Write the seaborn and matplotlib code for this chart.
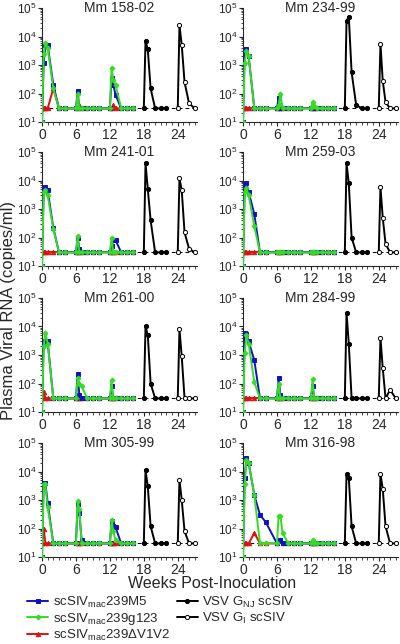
import numpy as np
import matplotlib
matplotlib.use("Agg")
import matplotlib.pyplot as plt
from matplotlib.ticker import LogLocator, NullFormatter
import seaborn as sns

# animals, one panel each (row by row)
animals = ["Mm 158-02", "Mm 234-99", "Mm 241-01", "Mm 259-03",
           "Mm 261-00", "Mm 284-99", "Mm 305-99", "Mm 316-98"]

# sampling weeks
weeks_sc = [0, 0.3, 0.6, 1, 2, 3, 4, 6, 6.3, 6.6, 7, 8, 9, 10,
            12, 12.3, 12.6, 13, 14, 15, 16]
weeks_nj = [18, 18.3, 18.7, 19.2, 20, 21, 22]
weeks_gi = [24, 24.3, 24.7, 25.2, 26, 27]

detection_limit = 30

# plasma viral RNA (copies/ml), one row per animal
m5 = [
    [10, 1200, 5000, 5000, 200, 30, 30, 30, 120, 30, 30, 30, 30, 30, 30, 350, 200, 90, 30, 30, 30],
    [10, 3500, 3500, 2000, 30, 30, 30, 30, 70, 30, 30, 30, 30, 30, 30, 30, 30, 30, 30, 30, 30],
    [10, 5000, 6000, 4500, 220, 30, 30, 30, 100, 40, 30, 30, 30, 30, 30, 50, 80, 80, 30, 30, 30],
    [10, 7000, 8000, 4000, 650, 30, 30, 30, 30, 30, 30, 30, 30, 30, 30, 30, 30, 30, 30, 30, 30],
    [10, 2500, 3000, 3000, 30, 30, 30, 30, 220, 40, 30, 30, 30, 30, 30, 80, 30, 30, 30, 30, 30],
    [10, 6000, 5500, 3000, 650, 30, 30, 30, 150, 40, 30, 30, 30, 30, 30, 80, 30, 30, 30, 30, 30],
    [10, 4000, 4000, 800, 30, 30, 30, 30, 700, 350, 40, 30, 30, 30, 30, 180, 120, 110, 30, 30, 30],
    [10, 6000, 30000, 20000, 1500, 300, 170, 30, 40, 40, 30, 30, 30, 30, 30, 30, 30, 30, 30, 30, 30],
]
g123 = [
    [10, 2500, 6000, 4000, 150, 30, 30, 30, 100, 30, 30, 30, 30, 30, 30, 800, 300, 200, 30, 30, 30],
    [10, 1200, 3000, 2000, 30, 30, 30, 30, 40, 100, 30, 30, 30, 30, 30, 50, 35, 30, 30, 30, 30],
    [10, 4000, 4500, 3000, 200, 30, 30, 30, 110, 30, 30, 30, 30, 30, 30, 100, 30, 30, 30, 30, 30],
    [10, 4000, 5500, 3000, 250, 30, 30, 30, 30, 30, 30, 30, 30, 30, 30, 30, 30, 30, 30, 30, 30],
    [10, 2000, 6000, 2500, 30, 30, 30, 30, 150, 100, 80, 30, 30, 30, 30, 130, 30, 30, 30, 30, 30],
    [10, 1200, 5000, 2500, 110, 30, 30, 30, 100, 30, 30, 30, 30, 30, 30, 140, 30, 30, 30, 30, 30],
    [10, 3500, 3500, 550, 30, 30, 30, 30, 900, 500, 30, 30, 30, 30, 30, 200, 80, 40, 30, 30, 30],
    [10, 3500, 25000, 20000, 1500, 30, 30, 30, 280, 280, 70, 30, 30, 30, 30, 40, 30, 30, 30, 30, 30],
]
dv1v2 = [
    [30, 30, 30, 30, 150, 30, 30, 30, 30, 40, 30, 30, 30, 30, 30, 30, 40, 30, 30, 30, 30],
    [30] * 21,
    [30] * 21,
    [30] * 21,
    [30, 50, 30, 30, 30, 30, 30, 30, 30, 30, 30, 30, 30, 30, 30, 30, 30, 30, 30, 30, 30],
    [30] * 21,
    [30, 100, 30, 30, 30, 30, 30, 30, 30, 30, 30, 30, 30, 30, 30, 30, 30, 30, 30, 30, 30],
    [30, 30, 30, 30, 70, 30, 30, 30, 40, 40, 30, 30, 30, 30, 30, 30, 30, 30, 30, 30, 30],
]
g_nj = [
    [30, 7000, 3500, 150, 30, 30, 30],
    [30, 35000, 50000, 550, 40, 30, 30],
    [30, 40000, 5000, 400, 30, 30, 30],
    [30, 40000, 8000, 100, 30, 30, 30],
    [30, 10000, 5000, 100, 30, 30, 30],
    [30, 30000, 2500, 30, 30, 30, 30],
    [30, 11000, 3000, 120, 30, 30, 30],
    [30, 8000, 6000, 120, 30, 30, 30],
]
g_i = [
    [30, 25000, 5000, 250, 45, 30],
    [30, 5500, 280, 50, 30, 30],
    [30, 12000, 4500, 150, 40, 30],
    [30, 6000, 500, 60, 30, 30],
    [30, 8000, 900, 30, 30, 30],
    [30, 4000, 350, 30, 60, 30],
    [30, 5000, 1000, 80, 30, 30],
    [30, 8000, 2500, 120, 30, 30],
]

labels = ["scSIV$_{\\mathrm{mac}}$239M5", "scSIV$_{\\mathrm{mac}}$239g123",
          "scSIV$_{\\mathrm{mac}}$239\u0394V1V2", "VSV G$_{\\mathrm{NJ}}$ scSIV",
          "VSV G$_{\\mathrm{I}}$ scSIV"]

sns.set_theme(style="ticks")
plt.rcParams['font.family'] = ['Liberation Sans', 'DejaVu Sans']
plt.rcParams['mathtext.fontset'] = 'custom'
plt.rcParams['mathtext.rm'] = 'Liberation Sans'

fig = plt.figure(figsize=(4.0, 6.44), dpi=100)
W, H = 400, 644

col_left = [42, 243]
row_top = [8, 152, 298, 443]
ax_w, ax_h = 155, 114

for i, name in enumerate(animals):
    r, c = divmod(i, 2)
    ax = fig.add_axes([col_left[c] / W, 1 - (row_top[r] + ax_h) / H, ax_w / W, ax_h / H])
    ax.set_yscale("log")
    ax.axhline(detection_limit, color="black", lw=0.7, ls=(0, (4, 3)), zorder=1)

    series = [
        (weeks_sc, m5[i], "#1010c8", "s", "#1010c8", 3.2),
        (weeks_sc, g123[i], "#33dd22", "D", "#33dd22", 2.5),
        (weeks_sc, dv1v2[i], "#e01010", "^", "#e01010", 3.2),
        (weeks_nj, g_nj[i], "black", "o", "black", 3.0),
        (weeks_gi, g_i[i], "black", "o", "white", 3.0),
    ]
    order = [2, 0, 1, 3, 4]
    for k in order:
        x, y, col, mk, fc, ms = series[k]
        sns.lineplot(x=x, y=y, ax=ax, color=col, marker=mk, markersize=ms,
                     markerfacecolor=fc, markeredgecolor=col, markeredgewidth=0.7,
                     lw=1.4, estimator=None, sort=False,
                     label=labels[k] if i == 0 else None, zorder=3)
    if ax.get_legend() is not None:
        ax.get_legend().remove()

    ax.set_xlim(0, 27.4)
    ax.set_ylim(10, 1e5)
    ax.yaxis.set_major_locator(LogLocator(base=10, numticks=10))
    ax.yaxis.set_minor_locator(LogLocator(base=10, subs=np.arange(2, 10), numticks=10))
    ax.yaxis.set_minor_formatter(NullFormatter())
    ax.set_xticks([0, 6, 12, 18, 24])
    ax.set_xticks(np.arange(0, 28, 1), minor=True)
    ax.tick_params(axis="x", which="major", labelsize=10, length=3, width=0.8, pad=1)
    ax.tick_params(axis="y", which="major", labelsize=8.5, length=3, width=0.8, pad=1)
    ax.tick_params(axis="both", which="minor", length=1.8, width=0.6)
    ax.set_xlabel("")
    ax.set_ylabel("")
    for s in ["top", "right"]:
        ax.spines[s].set_visible(False)
    for s in ["left", "bottom"]:
        ax.spines[s].set_linewidth(0.8)
    ax.text(0.5, 1.0, name, transform=ax.transAxes, ha="center", va="center", fontsize=10)

    if i == 0:
        handles, labs = ax.get_legend_handles_labels()

fig.text(9 / W, 1 - 310 / H, "Plasma Viral RNA (copies/ml)", rotation=90,
         ha="center", va="center", fontsize=12)
fig.text(212 / W, 1 - 583 / H, "Weeks Post-Inoculation", ha="center", va="center", fontsize=11.5)

hmap = dict(zip(labs, handles))
fig.legend([hmap[l] for l in labels], labels, ncol=2, loc="upper left",
           bbox_to_anchor=(27 / W, 1 - 595 / H), frameon=False, fontsize=9.5,
           handlelength=1.6, handletextpad=0.35, columnspacing=0.5, labelspacing=0.05,
           borderaxespad=0, borderpad=0)

fig.savefig("out.png", dpi=100)
